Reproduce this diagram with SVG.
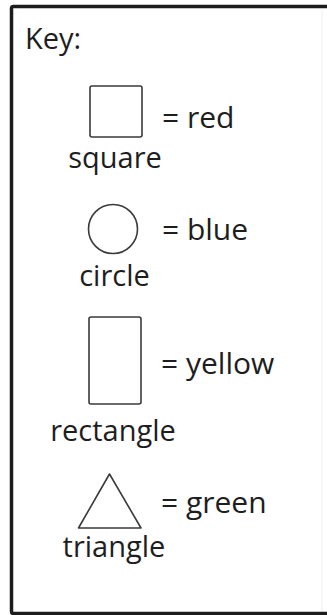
<svg xmlns="http://www.w3.org/2000/svg" width="327" height="615" viewBox="0 0 327 615">
<style>
.t{font-family:"Open Sans","Liberation Sans",sans-serif;font-size:29px;fill:#1e1e1e}
.v{font-size:30px}
.lbl{text-anchor:middle}
.sh{fill:#fff;stroke:#3a3a3a;stroke-width:1.6}
</style>
<rect x="0" y="0" width="327" height="615" fill="#fff"/>
<g id="frame">
<rect x="11.5" y="6.5" width="340" height="607" rx="2" fill="#fff" stroke="#1c1c1c" stroke-width="3.5"/>
<line x1="322" y1="10" x2="322" y2="611" stroke="#eeeeee" stroke-width="1"/>
</g>
<g id="title"><text class="t" x="25" y="49" font-size="31">Key:</text></g>
<g id="square">
<rect class="sh" x="90" y="86" width="52" height="51" rx="2"/>
<text class="t v" x="162" y="128">= red</text>
<text class="t lbl" x="115" y="168">square</text>
</g>
<g id="circle">
<circle class="sh" cx="113" cy="229" r="24.5"/>
<text class="t v" x="162" y="240">= blue</text>
<text class="t lbl" x="114.5" y="286">circle</text>
</g>
<g id="rectangle">
<rect class="sh" x="89" y="317" width="52" height="87" rx="2"/>
<text class="t v" x="161" y="374">= yellow</text>
<text class="t lbl" x="113" y="441">rectangle</text>
</g>
<g id="triangle">
<polygon class="sh" points="109.5,474 78.5,528 141,528" stroke-linejoin="round"/>
<text class="t v" x="161" y="513">= green</text>
<text class="t lbl" x="114" y="557">triangle</text>
</g>
</svg>
